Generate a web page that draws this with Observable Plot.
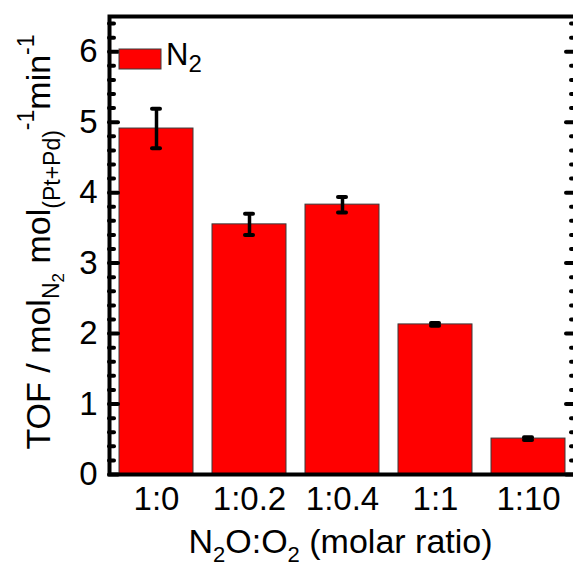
<!DOCTYPE html>
<html><head><meta charset="utf-8">
<script src="https://cdn.jsdelivr.net/npm/d3@7"></script>
<script src="https://cdn.jsdelivr.net/npm/@observablehq/plot@0.6"></script>
<style>html,body{margin:0;padding:0;background:#fff;overflow:hidden;} svg{display:block}</style>
</head><body><div id="chart"></div>
<script>
const categories = ["1:0", "1:0.2", "1:0.4", "1:1", "1:10"];
const tof = [4.91, 3.55, 3.83, 2.13, 0.51];
const tofErr = [0.28, 0.15, 0.11, 0.02, 0.02];
const yTickValues = [0, 1, 2, 3, 4, 5, 6];
const yDomain = [0, 6.5];

const data = categories.map((c, i) => ({ratio: c, tof: tof[i], lo: tof[i] - tofErr[i], hi: tof[i] + tofErr[i]}));
const W = 576, H = 566, ML = 109, MR = 0, MT = 16, MB = 92;
const FW = W - ML - MR;
const minorTicks = d3.range(0, 6.5001, 0.2).map(v => +v.toFixed(1)).filter(v => !yTickValues.includes(v));
const FONT = "'Liberation Sans', Arial, sans-serif";
const tickStyle = {stroke: "black", strokeWidth: 4, strokeLinecap: "round"};

const plot = Plot.plot({
  width: W, height: H,
  marginLeft: ML, marginRight: MR, marginTop: MT, marginBottom: MB,
  style: {fontFamily: FONT, background: "white", color: "black", fontSize: "33px", overflow: "visible", maxWidth: "none"},
  x: {domain: categories, paddingInner: 0.2, paddingOuter: 0.1, label: null},
  y: {domain: yDomain, label: null},
  marks: [
    Plot.barY(data, {x: "ratio", y: "tof", fill: "#ff0000", stroke: "#3a3a3a", strokeWidth: 1}),
    Plot.ruleX(data, {x: "ratio", y1: "lo", y2: "hi", stroke: "black", strokeWidth: 3.5}),
    Plot.tickY(data, {x: "ratio", y: "lo", ...tickStyle, insetLeft: 33, insetRight: 33}),
    Plot.tickY(data, {x: "ratio", y: "hi", ...tickStyle, insetLeft: 33, insetRight: 33}),
    Plot.ruleY(yTickValues, {y: d => d, ...tickStyle, insetRight: FW - 9}),
    Plot.ruleY(minorTicks, {y: d => d, ...tickStyle, insetRight: FW - 5}),
    Plot.ruleY(yTickValues, {y: d => d, ...tickStyle, insetLeft: FW - 10}),
    Plot.ruleY(minorTicks, {y: d => d, ...tickStyle, insetLeft: FW - 5}),
    Plot.axisY({ticks: yTickValues, tickSize: 0, tickPadding: 12, fontSize: 33, label: null, tickFormat: d => String(d)}),
    Plot.axisX({tickSize: 0, tickPadding: 12, fontSize: 33, label: null}),
    Plot.frame({stroke: "black", strokeWidth: 4})
  ]
});
document.getElementById("chart").appendChild(plot);

const svg = d3.select(plot);
// Y axis title
const yl = svg.append("text")
  .attr("transform", `translate(50,${(MT + H - MB) / 2 - 3}) rotate(-90)`)
  .attr("text-anchor", "middle").attr("fill", "black")
  .style("font-family", FONT).style("font-size", "34px");
yl.append("tspan").text("TOF / mol");
yl.append("tspan").attr("dy", 9).style("font-size", "23px").text("N");
yl.append("tspan").attr("dy", 5).style("font-size", "17px").text("2");
yl.append("tspan").attr("dy", -14).text(" mol");
yl.append("tspan").attr("dy", 10).style("font-size", "23px").text("(Pt+Pd)");
yl.append("tspan").attr("dy", -26).style("font-size", "23px").text("-1");
yl.append("tspan").attr("dy", 16).text("min");
yl.append("tspan").attr("dy", -16).style("font-size", "23px").text("-1");

// X axis title
const xl = svg.append("text")
  .attr("x", ML + FW / 2 - 2).attr("y", 553)
  .attr("text-anchor", "middle").attr("fill", "black")
  .style("font-family", FONT).style("font-size", "34px");
xl.append("tspan").text("N");
xl.append("tspan").attr("dy", 9).style("font-size", "22px").text("2");
xl.append("tspan").attr("dy", -9).text("O:O");
xl.append("tspan").attr("dy", 9).style("font-size", "22px").text("2");
xl.append("tspan").attr("dy", -9).text(" (molar ratio)");

// Legend
const lg = svg.append("g");
lg.append("rect").attr("x", 119).attr("y", 49).attr("width", 42).attr("height", 20)
  .attr("fill", "#ff0000").attr("stroke", "#3a3a3a").attr("stroke-width", 1);
const lt = lg.append("text").attr("x", 166).attr("y", 65).attr("fill", "black")
  .attr("text-anchor", "start")
  .style("font-family", FONT).style("font-size", "31px");
lt.append("tspan").text("N");
lt.append("tspan").attr("dy", 7).style("font-size", "24px").text("2");
</script>
</body></html>
